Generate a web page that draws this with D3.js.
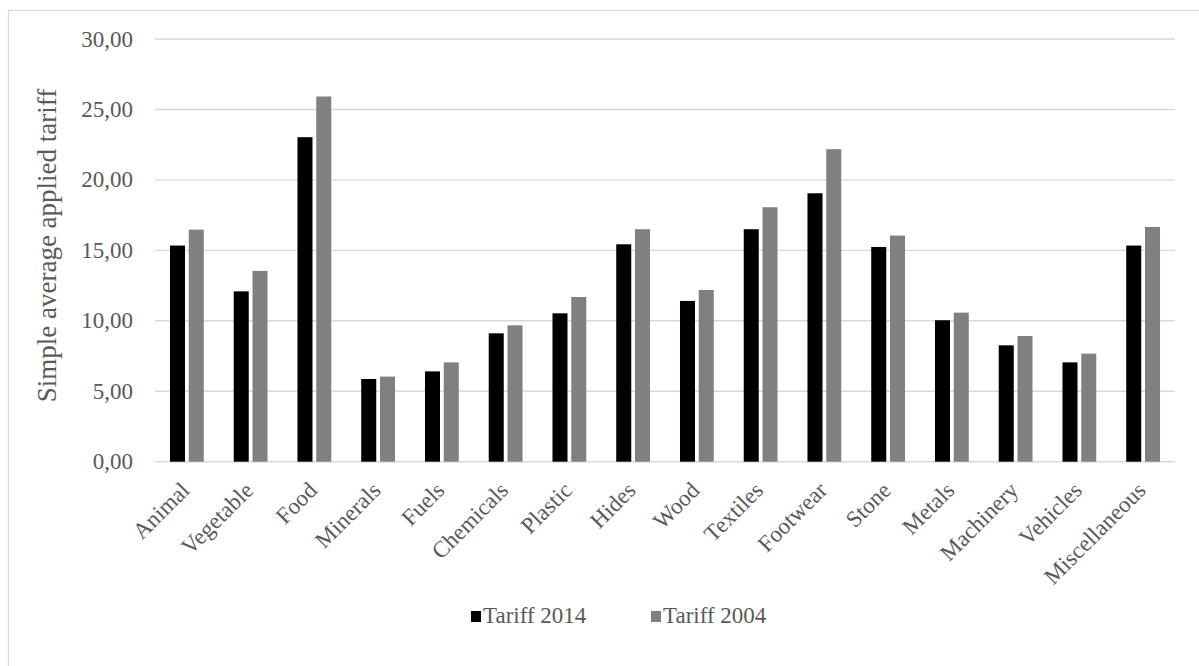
<!DOCTYPE html>
<html>
<head>
<meta charset="utf-8">
<script src="https://cdn.jsdelivr.net/npm/d3@7"></script>
<style>
  body { margin: 0; background: #fff; }
  text { fill: #595959; }
</style>
</head>
<body>
<div class="chart"></div>
<script>
const categories = ['Animal', 'Vegetable', 'Food', 'Minerals', 'Fuels', 'Chemicals', 'Plastic', 'Hides',
  'Wood', 'Textiles', 'Footwear', 'Stone', 'Metals', 'Machinery', 'Vehicles', 'Miscellaneous'];
const tariff2014 = [15.34, 12.09, 23.03, 5.87, 6.41, 9.11, 10.53, 15.43, 11.41, 16.50, 19.05, 15.24, 10.04, 8.26, 7.05, 15.34];
const tariff2004 = [16.47, 13.54, 25.92, 6.04, 7.05, 9.68, 11.69, 16.50, 12.19, 18.06, 22.18, 16.05, 10.58, 8.92, 7.67, 16.66];
const seriesNames = ['Tariff 2014', 'Tariff 2004'];
const yTicks = [0, 5, 10, 15, 20, 25, 30];

const W = 1199, H = 666;
const colors = ['#000000', '#808080'];
const serif = "'Liberation Serif', 'DejaVu Serif', serif";

const data = categories.map((c, i) => ({cat: c, values: [tariff2014[i], tariff2004[i]]}));

const svg = d3.select('.chart').append('svg')
  .attr('width', W)
  .attr('height', H)
  .style('font-family', serif);

// outer frame
svg.append('rect')
  .attr('x', 8.5).attr('y', 10.5)
  .attr('width', 1220).attr('height', 700)
  .attr('fill', 'none')
  .attr('stroke', '#d9d9d9')
  .attr('stroke-width', 1.3);

const plotLeft = 155, plotRight = 1175, plotTop = 39, plotBottom = 461.7;

const y = d3.scaleLinear().domain([0, 30]).range([plotBottom, plotTop]);
const x0 = d3.scaleBand().domain(categories).range([plotLeft, plotRight])
  .paddingInner(0.47).paddingOuter(0.235);
const x1 = d3.scaleBand().domain(seriesNames).range([0, x0.bandwidth()]).paddingInner(0.2);

// gridlines
svg.append('g')
  .selectAll('line')
  .data(yTicks)
  .enter()
  .append('line')
    .attr('x1', plotLeft).attr('x2', plotRight)
    .attr('y1', d => y(d)).attr('y2', d => y(d))
    .attr('stroke', '#d9d9d9')
    .attr('stroke-width', 1.4);

// y tick labels
svg.append('g')
  .selectAll('text')
  .data(yTicks)
  .enter()
  .append('text')
    .attr('x', 133)
    .attr('y', d => y(d))
    .attr('dy', '0.33em')
    .attr('text-anchor', 'end')
    .style('font-family', serif)
    .style('font-size', '23px')
    .text(d => d3.format('.2f')(d).replace('.', ','));

// bars
const groups = svg.selectAll('.grp')
  .data(data)
  .enter()
  .append('g')
  .attr('class', 'grp')
  .attr('transform', d => `translate(${x0(d.cat)},0)`);

groups.selectAll('rect')
  .data(d => d.values.map((v, i) => ({name: seriesNames[i], v: v, i: i})))
  .enter()
  .append('rect')
    .attr('x', d => x1(d.name))
    .attr('y', d => y(d.v))
    .attr('width', x1.bandwidth())
    .attr('height', d => y(0) - y(d.v))
    .attr('fill', d => colors[d.i]);

// x labels
svg.append('g')
  .selectAll('text')
  .data(categories)
  .enter()
  .append('text')
    .attr('transform', d => `translate(${x0(d) + x0.bandwidth() / 2 + 4},${plotBottom + 30}) rotate(-45)`)
    .attr('text-anchor', 'end')
    .style('font-family', serif)
    .style('font-size', '23px')
    .text(d => d);

// y axis title
svg.append('text')
  .attr('transform', `translate(55.5,245.5) rotate(-90)`)
  .attr('text-anchor', 'middle')
  .style('font-family', serif)
  .style('font-size', '27px')
  .text('Simple average applied tariff');

// legend
const legend = svg.selectAll('.legend')
  .data(seriesNames)
  .enter()
  .append('g')
  .attr('class', 'legend')
  .attr('transform', (d, i) => `translate(${471 + i * 180},611)`);

legend.append('rect')
  .attr('width', 10)
  .attr('height', 11)
  .attr('fill', (d, i) => colors[i]);

legend.append('text')
  .attr('x', 12)
  .attr('y', 12)
  .style('font-family', serif)
  .style('font-size', '23px')
  .text(d => d);
</script>
</body>
</html>
